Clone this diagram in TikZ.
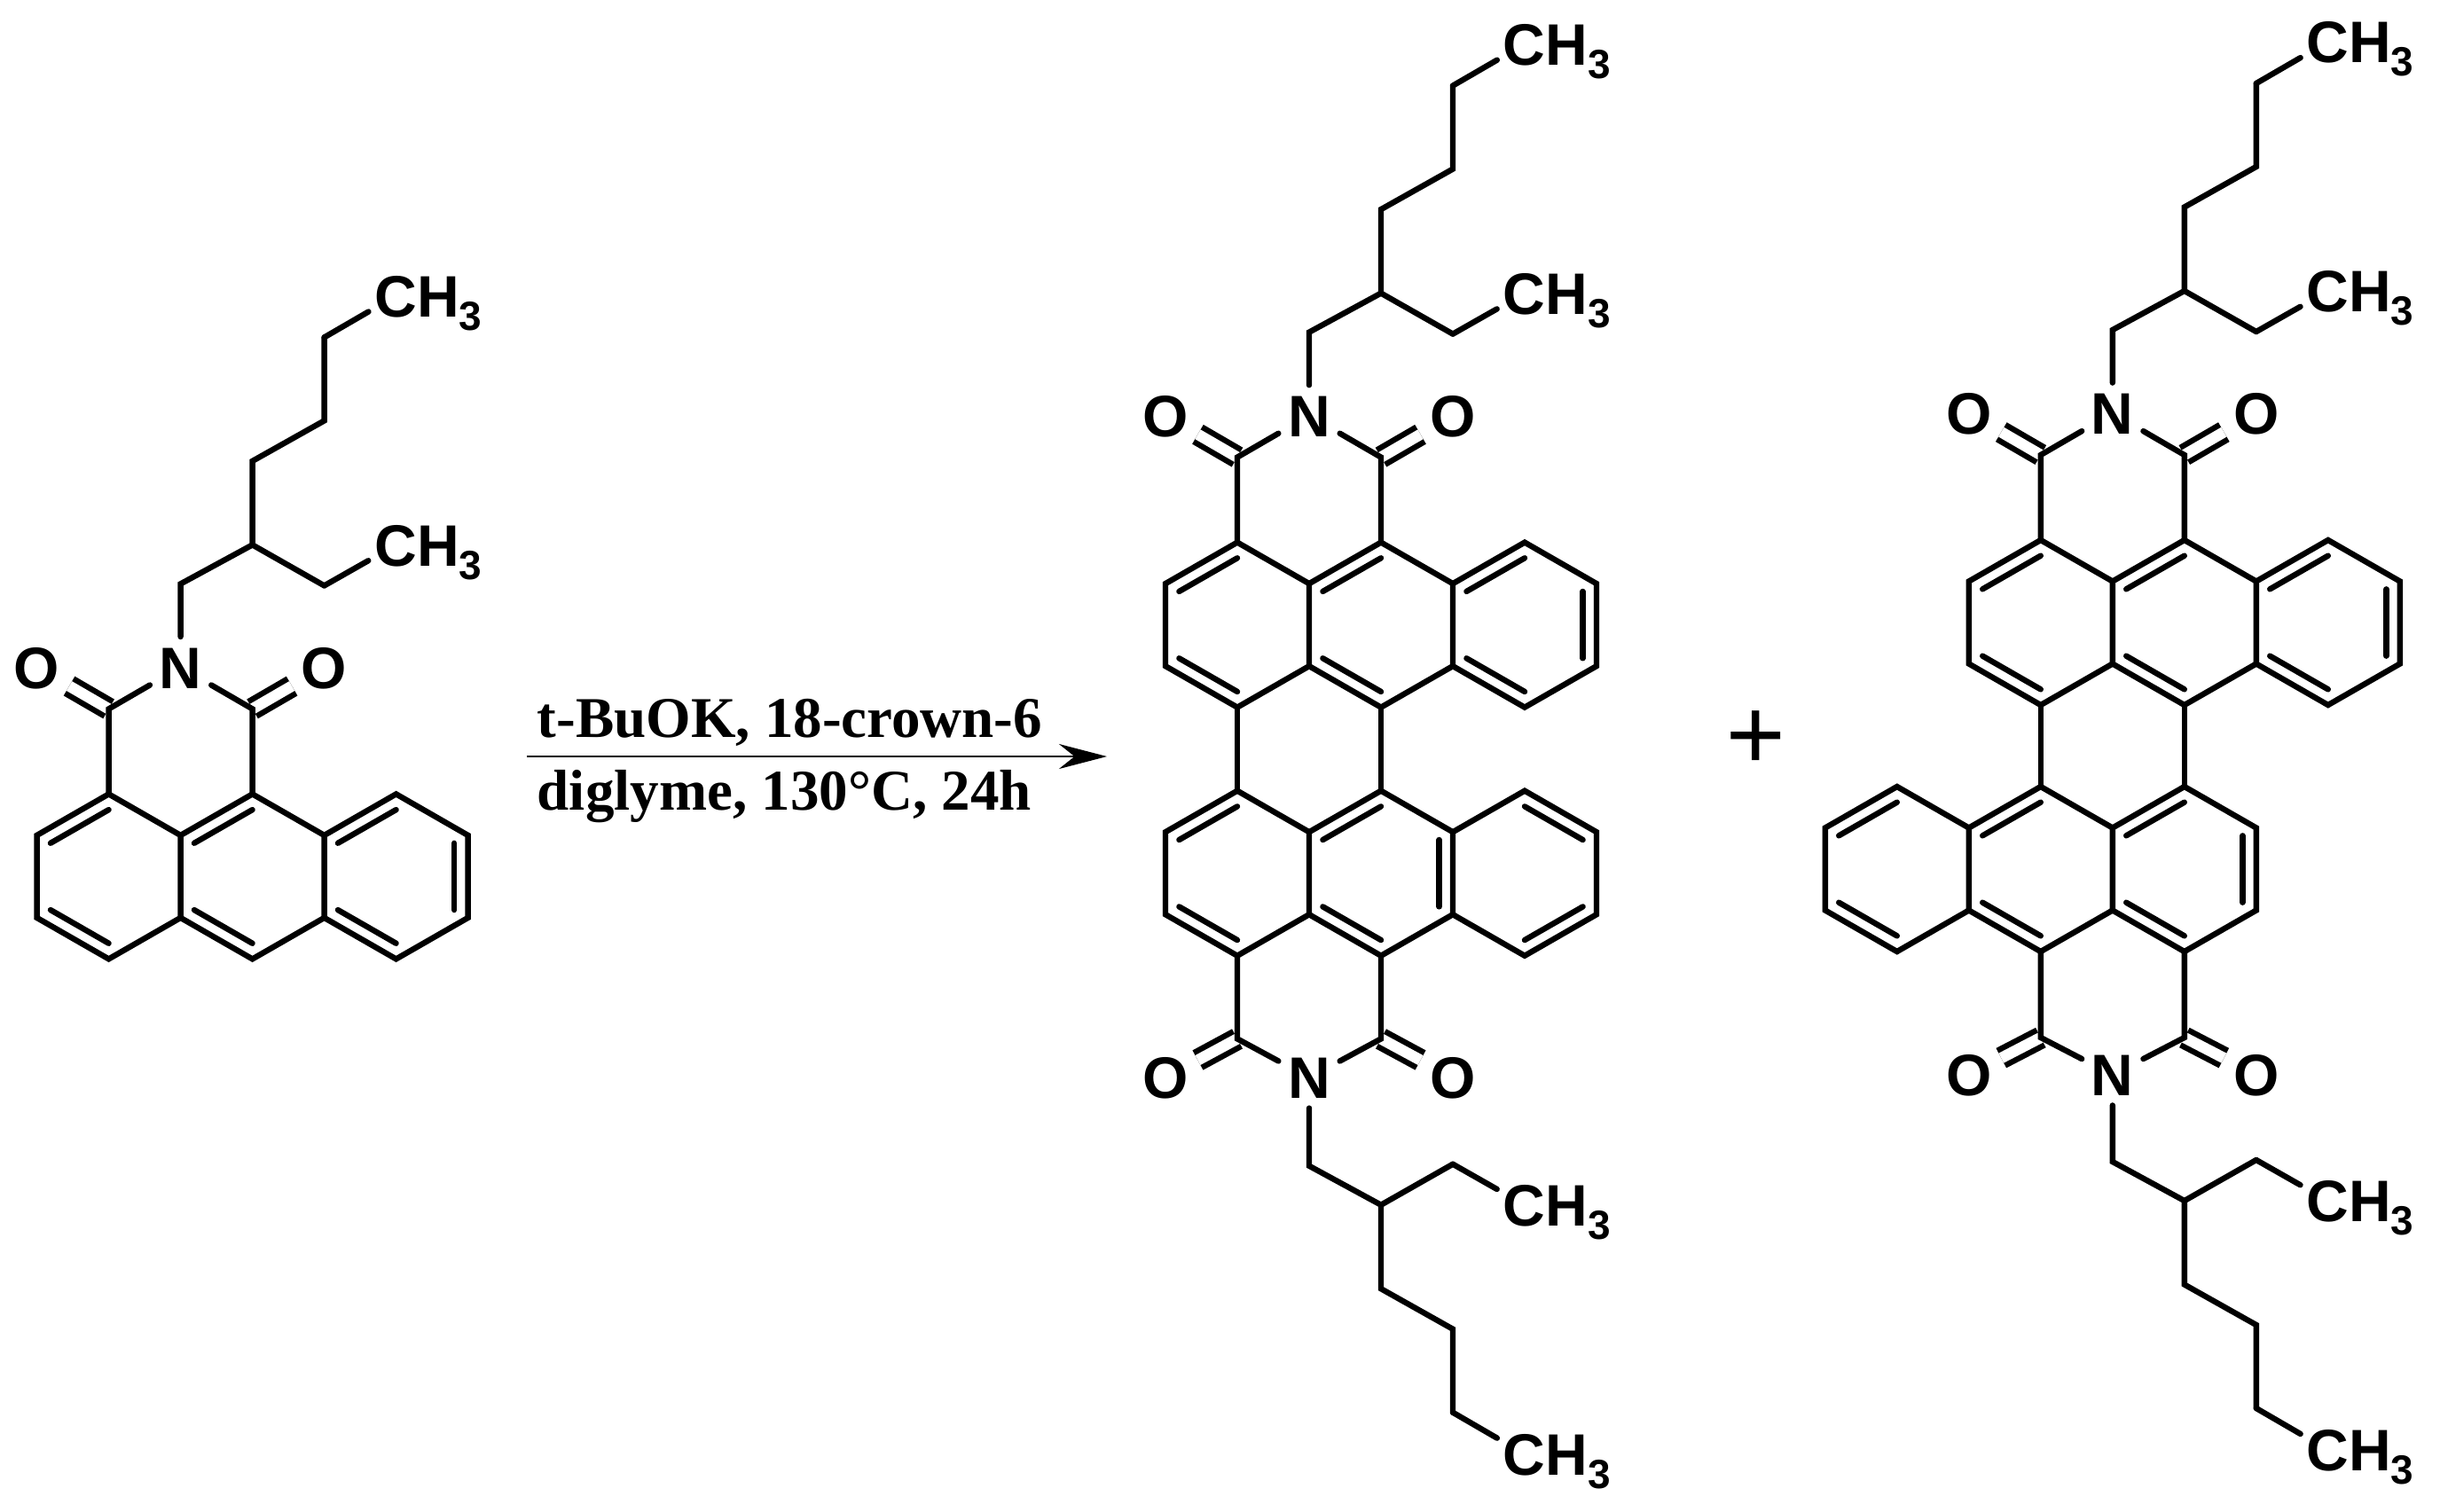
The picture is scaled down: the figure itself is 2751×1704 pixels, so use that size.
\documentclass[tikz,border=0pt]{standalone}
\usepackage{fontspec}
\setmainfont{Liberation Serif}
\newfontfamily\atomfont{Liberation Sans}
\usetikzlibrary{calc,arrows.meta}

\newcommand{\methyl}{CH\raisebox{-3.8pt}{\fontsize{11.5}{11.5}\selectfont 3}}

% rings of one half: prefix, x, y, xscale, yscale, inner lines
\newcommand{\ringpart}[6]{
  \begin{scope}[shift={(#2,#3)},xscale=#4,yscale=#5,name prefix=#1-]
    \coordinate (a) at (-81,0);
    \coordinate (b) at (-162,46.5);
    \coordinate (c) at (-162,139.5);
    \coordinate (d) at (-81,186);
    \coordinate (e) at (0,139.5);
    \coordinate (f) at (0,46.5);
    \coordinate (g) at (81,0);
    \coordinate (h) at (162,46.5);
    \coordinate (i) at (162,139.5);
    \coordinate (j) at (81,186);
    \coordinate (k) at (243,0);
    \coordinate (l) at (324,46.5);
    \coordinate (m) at (324,139.5);
    \coordinate (n) at (243,186);
    \coordinate (rl) at (-81,93);
    \coordinate (rm) at (81,93);
    \coordinate (rr) at (243,93);
    \draw[bd] (f) -- (a) -- (b) -- (c) -- (d) -- (e) -- cycle;
    \draw[bd] (f) -- (g) -- (h) -- (i) -- (j) -- (e);
    \draw[bd] (h) -- (k) -- (l) -- (m) -- (n) -- (i);
    \foreach \pa/\pb/\pc in {#6}
      \draw[bd] ($(\pa)!.19!(\pc)$) -- ($(\pb)!.19!(\pc)$);
  \end{scope}
}

% imide and side chain of one half: prefix, x, y, yscale, carbonyl row, nitrogen row
\newcommand{\imidepart}[6]{
  \begin{scope}[shift={(#2,#3)},yscale=#4,name prefix=#1-]
    \coordinate (r1) at (-81,0);
    \coordinate (r2) at (81,0);
    \coordinate (c1) at (-81,#5);
    \coordinate (c2) at (81,#5);
    \coordinate (n1) at (0,-237);
    \coordinate (n2) at (81,-281);
    \coordinate (n3) at (162,-235);
    \coordinate (n4) at (81,-375.5);
    \coordinate (n5) at (162,-421);
    \coordinate (n6) at (162,-515);
    \coordinate (ma) at (243,-281);
    \coordinate (mb) at (243,-562);
    \node[atm] (N) at (0,#6) {N};
    \node[atm] (o1) at (-162,#6) {O};
    \node[atm] (o2) at (162,#6) {O};
    \node[mth] (me1) at (ma) {\methyl};
    \node[mth] (me2) at (mb) {\methyl};
    \draw[dbd] (c1) -- (o1);
    \draw[dbd] (c2) -- (o2);
    \draw[bd] (r1) -- (c1) -- (N);
    \draw[bd] (r2) -- (c2) -- (N);
    \draw[bd] (N) -- (n1) -- (n2) -- (n4) -- (n5) -- (n6);
    \draw[bd] (n2) -- (n3);
    \draw[bd,shorten >=9pt] (n3) -- (ma);
    \draw[bd,shorten >=9pt] (n6) -- (mb);
  \end{scope}
}

\begin{document}
\begin{tikzpicture}[
          x=0.25pt,
          y=-0.25pt,
          bd/.style={line width=1.6pt, line cap=round, line join=miter},
          dbd/.style={line width=1.6pt, double, double distance=3.1pt},
          atm/.style={font=\atomfont\bfseries\fontsize{16.5}{16.5}\selectfont, inner sep=2.5pt, text height=11.8pt, text depth=0pt},
          mth/.style={font=\atomfont\bfseries\fontsize{16.5}{16.5}\selectfont, inner sep=0pt, anchor=west, xshift=-6.25pt, text height=11.8pt, text depth=0pt},
          rgt/.style={font=\bfseries\fontsize{16.25}{16.25}\selectfont, inner sep=0pt, anchor=base west},
        ]
      \useasboundingbox (0,0) rectangle (2751,1704);
      % starting imide
      \ringpart{A}{203.6}{895.4}{1}{1}{a/b/rl,f/g/rm,d/c/rl,e/j/rm,k/h/rr,n/i/rr,l/m/rr}
      \imidepart{A}{203.6}{895.4}{1}{-96}{-143}
      % reagents
      \coordinate (arL) at (594,853);
      \coordinate (arR) at (1248,853);
      \draw[-{Stealth[length=13.5pt,width=7pt]}, line width=0.7pt] (arL) -- (arR);
      \node[rgt] (rg1) at (605,831.7) {t-BuOK, 18-crown-6};
      \node[rgt] (rg2) at (605,913) {diglyme, 130°C, 24h};
      % first product
      \ringpart{B}{1476}{611.6}{1}{1}{a/b/rl,f/g/rm,d/c/rl,e/j/rm,k/h/rr,n/i/rr,l/m/rr}
      \imidepart{B}{1476}{611.6}{1}{-96}{-143}
      \ringpart{C}{1476}{1077.7}{1}{-1}{c/d/rl,e/j/rm,a/b/rl,f/g/rm,n/m/rr,k/l/rr,h/i/rm}
      \imidepart{C}{1476}{1077.7}{-1}{-93.7}{-137.5}
      \draw[bd] (B-d) -- (C-d);
      \draw[bd] (B-j) -- (C-j);
      \node[font=\bfseries\fontsize{30}{30}\selectfont, inner sep=0pt] (plus) at (1980,836) {+};
      % second product
      \ringpart{D}{2381.8}{609}{1}{1}{a/b/rl,f/g/rm,d/c/rl,e/j/rm,k/h/rr,n/i/rr,l/m/rr}
      \imidepart{D}{2381.8}{609}{1}{-96}{-143}
      \ringpart{E}{2381.8}{1073}{-1}{-1}{e/d/rl,f/a/rl,c/b/rl,i/j/rm,h/g/rm,n/m/rr,k/l/rr}
      \imidepart{E}{2381.8}{1073}{-1}{-97}{-139}
      \draw[bd] (D-d) -- (E-j);
      \draw[bd] (D-j) -- (E-d);
    \end{tikzpicture}
\end{document}
